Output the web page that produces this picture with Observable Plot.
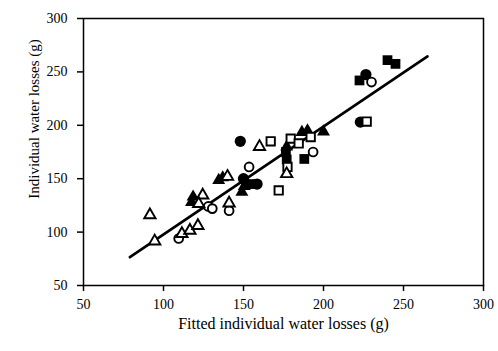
<!DOCTYPE html>
<html><head><meta charset="utf-8">
<script src="https://cdn.jsdelivr.net/npm/d3@7"></script>
<script src="https://cdn.jsdelivr.net/npm/@observablehq/plot@0.6"></script>
<style>
body{margin:0;background:#fff;}
#wrap{position:relative;width:498px;height:351px;}
#chart svg{display:block;}
#ytitle{position:absolute;left:34px;top:119px;transform:translate(-50%,-50%) rotate(-90deg);white-space:nowrap;
  font-family:"Liberation Serif","Times New Roman",serif;font-size:15px;color:#000;line-height:1;}
</style>
</head><body><div id="wrap"><div id="chart"></div><div id="ytitle"></div></div>
<script>
// Axis ticks
const xTicks = [50, 100, 150, 200, 250, 300];
const yTicks = [50, 100, 150, 200, 250, 300];
const xLabel = "Fitted individual water losses (g)";
const yLabel = "Individual water losses (g)";

// Filled circles
const fcX = [148, 150, 158.5, 223, 226.5];
const fcY = [185, 150, 145, 203, 247.5];
// Open circles
const ocX = [109.5, 128, 130.5, 141, 153.5, 193.5, 230];
const ocY = [94, 124, 122, 120, 161, 175, 240.5];
// Filled squares
const fsX = [155, 176.5, 177, 188, 222.5, 240, 245];
const fsY = [145, 175, 168, 168.5, 242, 261, 257.5];
// Open squares
const osX = [167, 179.5, 184.5, 192, 177.5, 172, 227];
const osY = [185, 187.5, 183, 189, 161, 139, 203.5];
// Filled triangles
const ftX = [118.5, 117.5, 134.5, 137, 149, 150.5, 177, 186.5, 190, 200];
const ftY = [133, 128, 148.5, 151, 137.5, 143, 180, 193.5, 195, 194];
// Open triangles
const otX = [91.5, 94.5, 111.5, 116.5, 121.5, 124.5, 122, 140, 141, 160, 177];
const otY = [116, 91.5, 98.5, 101.5, 106, 134.5, 126.5, 152, 127, 180, 154.5];
// Fitted line end points
const fitX = [79, 265];
const fitY = [76.5, 264.5];

const pts = (xs, ys) => xs.map((x, i) => ({x, y: ys[i]}));

const chart = Plot.plot({
  width: 498,
  height: 351,
  marginLeft: 83,
  marginRight: 15,
  marginTop: 18,
  marginBottom: 66,
  style: {fontFamily: "Liberation Serif, Times New Roman, serif", fontSize: "14px", color: "black", background: "white"},
  x: {domain: [50, 300]},
  y: {domain: [50, 300]},
  marks: [
    Plot.frame({stroke: "black", strokeWidth: 1.5}),
    Plot.axisX({ticks: xTicks, tickSize: 6, tickPadding: 8, label: null, strokeWidth: 1.5, fontSize: 14}),
    Plot.axisY({ticks: yTicks, tickSize: 6, tickPadding: 10, label: null, strokeWidth: 1.5, fontSize: 14}),
    Plot.text([xLabel], {frameAnchor: "bottom", dy: 43, fontSize: 16, text: d => d}),
    Plot.line(pts(fitX, fitY), {x: "x", y: "y", stroke: "black", strokeWidth: 2.7}),
    Plot.dot(pts(fcX, fcY), {x: "x", y: "y", symbol: "circle", r: 5.6, fill: "black", stroke: "none"}),
    Plot.dot(pts(fsX, fsY), {x: "x", y: "y", symbol: "square", r: 5.5, fill: "black", stroke: "none"}),
    Plot.dot(pts(ftX, ftY), {x: "x", y: "y", symbol: "triangle", r: 4.8, fill: "black", stroke: "none"}),
    Plot.dot(pts(ocX, ocY), {x: "x", y: "y", symbol: "circle", r: 4.4, fill: "white", stroke: "black", strokeWidth: 1.9}),
    Plot.dot(pts(osX, osY), {x: "x", y: "y", symbol: "square", r: 4.7, fill: "white", stroke: "black", strokeWidth: 1.9}),
    Plot.dot(pts(otX, otY), {x: "x", y: "y", symbol: "triangle", r: 4.2, fill: "white", stroke: "black", strokeWidth: 1.9})
  ]
});
document.getElementById("chart").appendChild(chart);
document.getElementById("ytitle").textContent = yLabel;
</script>
</body></html>
